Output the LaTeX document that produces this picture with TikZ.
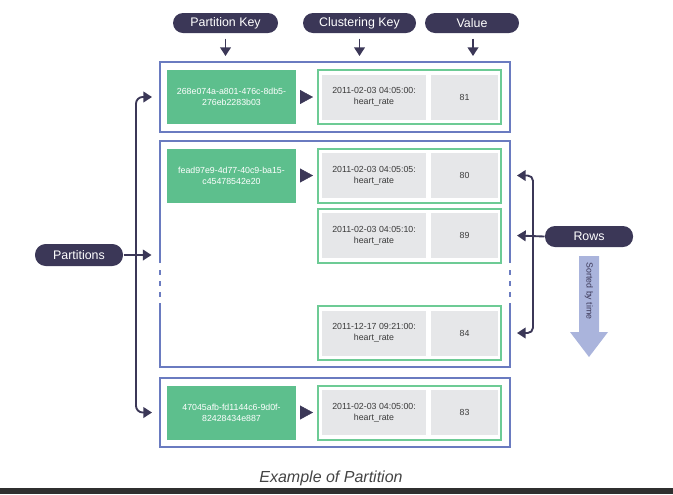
\documentclass[tikz,border=0pt]{standalone}
\usepackage{fontspec}
\setmainfont{Liberation Sans}
\usetikzlibrary{arrows.meta}

\definecolor{navy}{HTML}{3B3757}
\definecolor{partblue}{HTML}{6A7BC0}
\definecolor{keygreen}{HTML}{5DBF8D}
\definecolor{rowgreen}{HTML}{6DCB95}
\definecolor{cellgray}{HTML}{E6E7E9}
\definecolor{sortblue}{HTML}{AAB4DC}
\definecolor{textgray}{HTML}{3A3A3A}
\definecolor{capgray}{HTML}{444444}
\definecolor{barcol}{HTML}{2F2F2F}

\tikzset{every picture/.style={line width=0.75pt}}
\tikzset{
  pill/.style={fill=navy, text=white, rounded corners=7.5pt, minimum height=15pt, inner sep=0pt, font=\fontsize{9.3}{11}\selectfont},
  outer/.style={draw=partblue, line width=1.5pt},
  keybox/.style={fill=keygreen, text=white, minimum width=96.75pt, minimum height=40.5pt, inner sep=0pt, align=center, font=\fontsize{6.6}{8.4}\selectfont},
  rowbox/.style={draw=rowgreen, line width=1.5pt, minimum width=137.25pt, minimum height=40.5pt, inner sep=0pt},
  ckcell/.style={fill=cellgray, text=textgray, minimum width=78pt, minimum height=33.75pt, inner sep=0pt, align=center, font=\fontsize{6.6}{8.4}\selectfont},
  valcell/.style={fill=cellgray, text=textgray, minimum width=50.25pt, minimum height=33.75pt, inner sep=0pt, font=\fontsize{6.6}{8.4}\selectfont},
  arr/.style={draw=navy, line width=1.4pt, -{Triangle[length=6.5pt,width=8pt]}},
  tri/.style={draw=navy, fill=navy, line width=0.3pt, -{Triangle[length=9.75pt,width=10.5pt]}, shorten <=3pt, shorten >=3pt}
}

\begin{document}
\begin{tikzpicture}[
                x=0.75pt,
                y=0.75pt,
                yscale=-1,
                xscale=1,
                line width=0.75pt
            ]
                \useasboundingbox (0,0) rectangle (673,494);

                % header labels
                \node [pill, minimum width=78.75pt] (pk) at (225.5,23) {Partition Key};
                \node [pill, minimum width=84.75pt] (ck) at (359.5,23) {Clustering Key};
                \node [pill, minimum width=70.5pt] (vk) at (472,23) {Value};

                % partition boxes
                \node [outer, minimum width=262.5pt, minimum height=52.5pt] (part1) at (335,97) {};
                \node [minimum width=262.5pt, minimum height=169.5pt] (part2) at (335,254) {};
                \node [outer, minimum width=262.5pt, minimum height=51.75pt] (part3) at (335,412.5) {};
                \draw [outer] (160,263) -- (160,141) -- (510,141) -- (510,263);
                \draw [outer] (160,303) -- (160,367) -- (510,367) -- (510,303);
                \draw [outer, dash pattern=on 3.75pt off 4.5pt] (160,270) -- (160,297);
                \draw [outer, dash pattern=on 3.75pt off 4.5pt] (510,270) -- (510,297);

                % partition keys
                \node [keybox] (key1) at (231.5,97) {268e074a-a801-476c-8db5-\\276eb2283b03};
                \node [keybox] (key2) at (231.5,175.5) {fead97e9-4d77-40c9-ba15-\\c45478542e20};
                \node [keybox] (key3) at (231.5,412.5) {47045afb-fd1144c6-9d0f-\\82428434e887};

                % rows
                \node [rowbox] (row1) at (409.5,97) {};
                \node [rowbox] (row2a) at (409.5,175.5) {};
                \node [rowbox] (row2b) at (409.5,235.5) {};
                \node [rowbox] (row2c) at (409.5,333) {};
                \node [rowbox] (row3) at (409.5,412.5) {};

                \node [ckcell] (ck1) at (374,97) {2011-02-03 04:05:00:\\heart\_rate};
                \node [valcell] (val1) at (464.5,97) {81};
                \node [ckcell] (ck2a) at (374,175.5) {2011-02-03 04:05:05:\\heart\_rate};
                \node [valcell] (val2a) at (464.5,175.5) {80};
                \node [ckcell] (ck2b) at (374,235.5) {2011-02-03 04:05:10:\\heart\_rate};
                \node [valcell] (val2b) at (464.5,235.5) {89};
                \node [ckcell] (ck2c) at (374,333) {2011-12-17 09:21:00:\\heart\_rate};
                \node [valcell] (val2c) at (464.5,333) {84};
                \node [ckcell] (ck3) at (374,412.5) {2011-02-03 04:05:00:\\heart\_rate};
                \node [valcell] (val3) at (464.5,412.5) {83};

                % key to row
                \draw [tri] (key1.east) -- (row1.west);
                \draw [tri] (key2.east) -- (row2a.west);
                \draw [tri] (key3.east) -- (row3.west);

                % header arrows
                \draw [arr, shorten <=3.75pt, shorten >=3.75pt] (pk.south) -- (pk.south |- part1.north);
                \draw [arr, shorten <=3.75pt, shorten >=3.75pt] (ck.south) -- (ck.south |- part1.north);
                \draw [arr, shorten <=3.75pt, shorten >=3.75pt] ([xshift=0.75pt]vk.south) -- ([xshift=0.75pt]vk.south |- part1.north);

                % partitions bracket
                \node [pill, minimum width=66pt, minimum height=16.5pt, rounded corners=8pt] (parts) at (79,255) {Partitions};
                \coordinate (lbk) at (136,255);
                \draw [arr, shorten >=6pt] (parts.east) -- (parts.east -| part2.west);
                \draw [arr, rounded corners=5pt] (lbk) |- ([xshift=-5.25pt]part1.west);
                \draw [arr, rounded corners=5pt] (lbk) |- ([xshift=-5.25pt]part3.west);

                % rows bracket
                \node [pill, minimum width=66pt, minimum height=15.75pt] (rows) at (589,236.5) {Rows};
                \coordinate (rbk) at (533,236);
                \draw [arr] (rows.west) -- ([xshift=11.25pt]row2b.east);
                \draw [arr, rounded corners=4pt] (rbk) |- ([xshift=11.25pt]row2a.east);
                \draw [arr, rounded corners=4pt] (rbk) |- ([xshift=11.25pt]row2c.east);

                % sorted by time
                \fill [sortblue] (579,256) -- (599,256) -- (599,332) -- (608,332) -- (589,357) -- (570,332) -- (579,332) -- cycle;
                \node [rotate=-90, text=navy, inner sep=0pt, font=\fontsize{6.6}{8}\selectfont] (sortlbl) at (589,291) {Sorted by time};

                % caption
                \node [text=capgray, font=\itshape\fontsize{12}{14}\selectfont] (caption) at (331,478) {Example of Partition};
                \fill [barcol] (0,488) rectangle (673,494);
            \end{tikzpicture}
\end{document}
